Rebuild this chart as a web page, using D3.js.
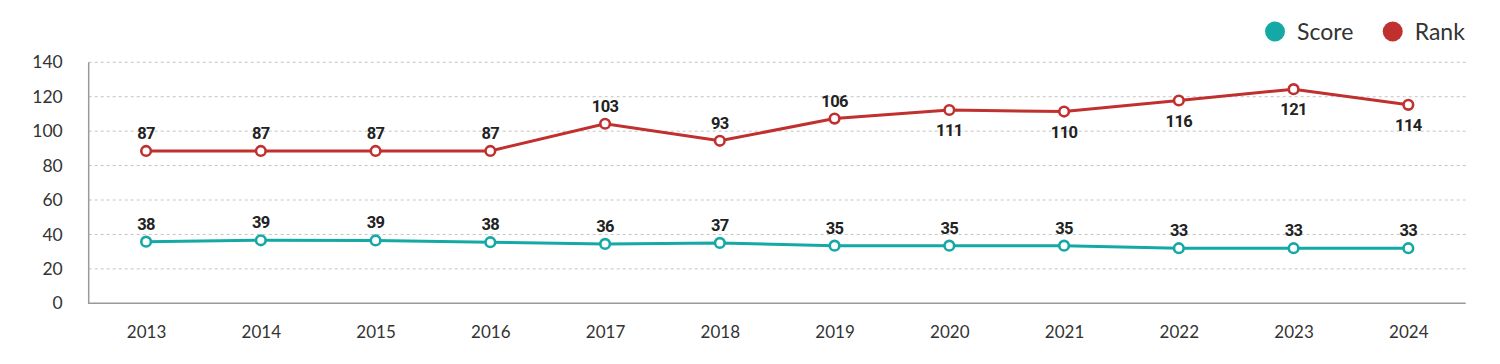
<!DOCTYPE html>
<html>
<head>
<meta charset="utf-8">
<script src="https://cdn.jsdelivr.net/npm/d3@7"></script>
<style>
  body { margin: 0; background: #fff; }
  svg { display: block; }
</style>
</head>
<body>
<script>
// years on the x axis
const years = ['2013', '2014', '2015', '2016', '2017', '2018', '2019', '2020', '2021', '2022', '2023', '2024'];

// plotted positions and the printed labels
const scoreValues = [35.8, 36.6, 36.5, 35.5, 34.5, 35.1, 33.5, 33.5, 33.5, 32.0, 32.0, 32.0];
const scoreLabels = ['38', '39', '39', '38', '36', '37', '35', '35', '35', '33', '33', '33'];
const rankValues = [88.5, 88.5, 88.5, 88.5, 104.3, 94.4, 107.3, 112.3, 111.4, 117.8, 124.4, 115.3];
const rankLabels = ['87', '87', '87', '87', '103', '93', '106', '111', '110', '116', '121', '114'];
// which rank labels sit under the point
const rankBelow = [false, false, false, false, false, false, false, true, true, true, true, true];

const yTicks = [0, 20, 40, 60, 80, 100, 120, 140];

const teal = '#15a9a6', red = '#c0302e';
const W = 1500, H = 364;
const plotL = 88.7, plotR = 1465.7, plotT = 62.3, plotB = 303.3;

const svg = d3.select('body').append('svg').attr('width', W).attr('height', H);

const x = d3.scalePoint().domain(years).range([plotL, plotR]).padding(0.5);
const y = d3.scaleLinear().domain([0, 140]).range([plotB, plotT]);

// grid
svg.append('g').selectAll('line')
    .data(yTicks.filter(d => d > 0))
    .join('line')
    .attr('x1', plotL).attr('x2', plotR)
    .attr('y1', d => y(d)).attr('y2', d => y(d))
    .attr('stroke', '#c4c4c4')
    .attr('stroke-width', 1)
    .attr('stroke-dasharray', '3,3');

// y axis labels
const yAxis = svg.append('g')
    .attr('transform', 'translate(' + plotL + ',0)')
    .call(d3.axisLeft(y).tickValues(yTicks).tickSize(0).tickPadding(26));
yAxis.select('.domain').remove();
yAxis.selectAll('text')
    .attr('font-family', 'Lato, "Open Sans", sans-serif')
    .attr('font-size', 17.5)
    .attr('fill', '#333');

// x axis labels
const xAxis = svg.append('g')
    .attr('transform', 'translate(0,' + plotB + ')')
    .call(d3.axisBottom(x).tickSize(0).tickPadding(23));
xAxis.select('.domain').remove();
xAxis.selectAll('text')
    .attr('font-family', 'Lato, "Open Sans", sans-serif')
    .attr('font-size', 17)
    .attr('fill', '#333');

// axis frame
svg.append('path')
    .attr('d', 'M' + plotL + ',' + plotT + 'V' + plotB + 'H' + plotR)
    .attr('fill', 'none')
    .attr('stroke', '#9a9a9a')
    .attr('stroke-width', 1.5);

const line = d3.line().x((d, i) => x(years[i])).y(d => y(d));

let drawSeries = (values, labels, color, below) => {
    const g = svg.append('g');
    g.append('path')
        .datum(values)
        .attr('d', line)
        .attr('fill', 'none')
        .attr('stroke', color)
        .attr('stroke-width', 3);
    g.selectAll('circle')
        .data(values)
        .join('circle')
        .attr('cx', (d, i) => x(years[i]))
        .attr('cy', d => y(d))
        .attr('r', 4.8)
        .attr('fill', '#fff')
        .attr('stroke', color)
        .attr('stroke-width', 2.6);
    g.selectAll('text')
        .data(values)
        .join('text')
        .attr('x', (d, i) => x(years[i]))
        .attr('y', (d, i) => y(d) + (below[i] ? 26 : -12))
        .attr('text-anchor', 'middle')
        .attr('font-family', 'Roboto, sans-serif')
        .attr('font-weight', 'bold')
        .attr('font-size', 16.5)
        .attr('letter-spacing', -0.6)
        .attr('fill', '#222')
        .text((d, i) => labels[i]);
}

drawSeries(rankValues, rankLabels, red, rankBelow);
drawSeries(scoreValues, scoreLabels, teal, years.map(() => false));

// legend
const legend = [['Score', teal, 1275], ['Rank', red, 1392.7]];
const lg = svg.append('g').selectAll('g').data(legend).join('g')
    .attr('transform', d => 'translate(' + d[2] + ',31.5)');
lg.append('circle').attr('r', 10).attr('fill', d => d[1]);
lg.append('text')
    .attr('x', 22).attr('y', 8)
    .attr('font-family', 'Lato, "Open Sans", sans-serif')
    .attr('font-size', 23)
    .attr('fill', '#333')
    .text(d => d[0]);
</script>
</body>
</html>
